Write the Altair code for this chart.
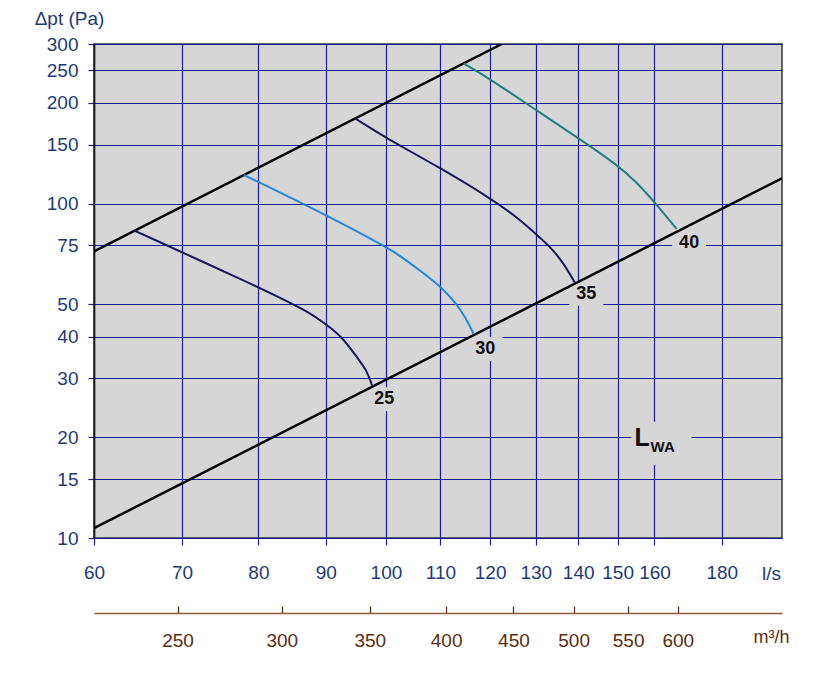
import altair as alt
import pandas as pd

# ---- data ----
x_ticks = [60, 70, 80, 90, 100, 110, 120, 130, 140, 150, 160, 180]
y_ticks = [10, 15, 20, 30, 40, 50, 75, 100, 150, 200, 250, 300]
m3h_ticks = [250, 300, 350, 400, 450, 500, 550, 600]

upper_q = [60, 122.5]
upper_dp = [72, 300]
lower_q = [60, 200]
lower_dp = [10.7, 119]

c25_q = [64.4, 80.0, 84.3, 87.3, 89.8, 92.6, 95.0, 96.7, 97.6]
c25_dp = [83, 56.3, 50.8, 47.4, 43.9, 40.0, 34.8, 31.8, 28.6]
c30_q = [78.0, 90.1, 100, 102.3, 106.0, 110.2, 113.2, 115.0, 116.6]
c30_dp = [121.7, 92.4, 74.2, 70.2, 63.3, 56.3, 50.0, 45.5, 40.7]
c35_q = [94.9, 100, 110, 120, 126.0, 129.5, 133.0, 136.3, 139.2]
c35_dp = [179, 157.1, 127.8, 103.9, 90.6, 82.2, 75.0, 66.9, 58]
c40_q = [114.6, 120, 130, 140, 150, 155.0, 160, 166.3]
c40_dp = [262, 235.9, 190.5, 157.1, 130.4, 116.0, 101.1, 84]

label_text = ["25", "30", "35", "40"]
label_q = [99.7, 119.0, 142.0, 170.0]
label_dp = [26.0, 36.8, 53.7, 76.2]

lwa_q = [162.0]
lwa_dp = [19.2]

BG = "#d6d6d6"
GRID = "#1c1c96"
LBL = "#1d3a78"
BROWN = "#5b2c0f"
FS = 19

xs = alt.Scale(type="log", domain=[60, 200], nice=False, zero=False)
ys = alt.Scale(type="log", domain=[10, 300], nice=False, zero=False)

xaxis = alt.Axis(values=x_ticks, format="d", grid=True, gridColor=GRID, gridWidth=1.2,
                 tickColor=GRID, tickSize=7, tickWidth=1.2, domain=False,
                 labelColor=LBL, labelFont="Liberation Sans", labelFontSize=FS,
                 labelPadding=18, labelOverlap=False, labelFlush=False,
                 title="l/s", titleColor=LBL, titleFont="Liberation Sans", titleFontSize=FS,
                 titleFontWeight="normal", titleX=677, titleY=35, titleAlign="center",
                 titleBaseline="middle")
yaxis = alt.Axis(values=y_ticks, format="d", grid=True, gridColor=GRID, gridWidth=1.2,
                 tickColor=GRID, tickSize=6, tickWidth=1.2, domain=True, domainColor="#111",
                 domainWidth=1.5,
                 labelColor=LBL, labelFont="Liberation Sans", labelFontSize=FS,
                 labelPadding=10, labelOverlap=False, labelFlush=False,
                 title="\u0394pt (Pa)", titleColor=LBL, titleFont="Liberation Sans",
                 titleFontSize=FS, titleFontWeight="normal", titleAngle=0,
                 titleX=-25, titleY=-26, titleAlign="center", titleBaseline="middle")

def line_df(q, dp, name):
    return pd.DataFrame({"q": q, "dp": dp, "s": name})

X = alt.X("q:Q", scale=xs, axis=xaxis)
Y = alt.Y("dp:Q", scale=ys, axis=yaxis)

# label backgrounds (break the grid like the reference)
lab_df = pd.DataFrame({"q": label_q, "dp": label_dp, "t": label_text})
boxes = alt.Chart(lab_df).mark_point(
    shape="M-1,-0.7L1,-0.7L1,0.7L-1,0.7Z", filled=True, fill=BG, opacity=1, strokeWidth=0,
    size=1150).encode(x=X, y=Y)

lwa_df = pd.DataFrame({"q": lwa_q, "dp": lwa_dp})
lwa_box = alt.Chart(lwa_df).mark_point(
    shape="M-1,-0.72L1,-0.72L1,0.72L-1,0.72Z", filled=True, fill=BG, opacity=1,
    strokeWidth=0, size=3600).encode(x=X, y=Y)

upper = alt.Chart(line_df(upper_q, upper_dp, "u")).mark_line(color="#000", strokeWidth=2.5, clip=True).encode(x=X, y=Y)
lower = alt.Chart(line_df(lower_q, lower_dp, "l")).mark_line(color="#000", strokeWidth=2.5, clip=True).encode(x=X, y=Y)

def curve(q, dp, color):
    return alt.Chart(line_df(q, dp, color)).mark_line(
        color=color, strokeWidth=2, interpolate="basis").encode(x=X, y=Y)

c25 = curve(c25_q, c25_dp, "#17175f")
c30 = curve(c30_q, c30_dp, "#1e88e5")
c35 = curve(c35_q, c35_dp, "#17175f")
c40 = curve(c40_q, c40_dp, "#1f7f80")

labels = alt.Chart(lab_df).mark_text(
    font="Liberation Sans", fontSize=18, fontWeight="bold", color="#111",
    baseline="middle", align="center").encode(x=X, y=Y, text="t:N")

lwa_L = alt.Chart(lwa_df).mark_text(
    text="L", font="Liberation Sans", fontSize=25, fontWeight="bold", color="#111",
    align="left", baseline="alphabetic", dx=-27, dy=3).encode(x=X, y=Y)
lwa_WA = alt.Chart(lwa_df).mark_text(
    text="WA", font="Liberation Sans", fontSize=15, fontWeight="bold", color="#111",
    align="left", baseline="alphabetic", dx=-11, dy=9).encode(x=X, y=Y)

# secondary m3/h axis
m3_df = pd.DataFrame({"m3h": m3h_ticks, "dp": [10] * len(m3h_ticks)})
sec = alt.Chart(m3_df).mark_point(opacity=0).encode(
    x=alt.X("m3h:Q",
            scale=alt.Scale(type="log", domain=[216, 720], nice=False, zero=False),
            axis=alt.Axis(orient="top", offset=-569, values=m3h_ticks, format="d",
                          grid=False, domain=True, domainColor="#8a5a3a", domainWidth=1.3,
                          tickColor="#5b2c0f", tickSize=7, tickWidth=1.3,
                          labelColor=BROWN, labelFont="Liberation Sans", labelFontSize=FS,
                          labelBaseline="middle", labelPadding=-34, labelOverlap=False,
                          labelFlush=False,
                          title="m\u00b3/h", titleColor=BROWN, titleFont="Liberation Sans",
                          titleFontSize=18, titleFontWeight="normal", titleX=677, titleY=24,
                          titleAlign="center", titleBaseline="middle")),
    y=alt.Y("dp:Q", scale=ys, axis=yaxis))

main = alt.layer(boxes, lwa_box, upper, lower, c25, c30, c35, c40, labels, lwa_L, lwa_WA)

chart = alt.layer(main, sec).resolve_scale(x="independent").properties(
    width=688, height=494,
    autosize=alt.AutoSizeParams(type="none"),
    padding={"left": 94, "top": 44, "right": 49, "bottom": 138},
    background="white",
).configure_view(fill=BG, stroke="#333", strokeWidth=1.5)

chart.save("out.html", embed_options={"renderer": "svg", "actions": False})
